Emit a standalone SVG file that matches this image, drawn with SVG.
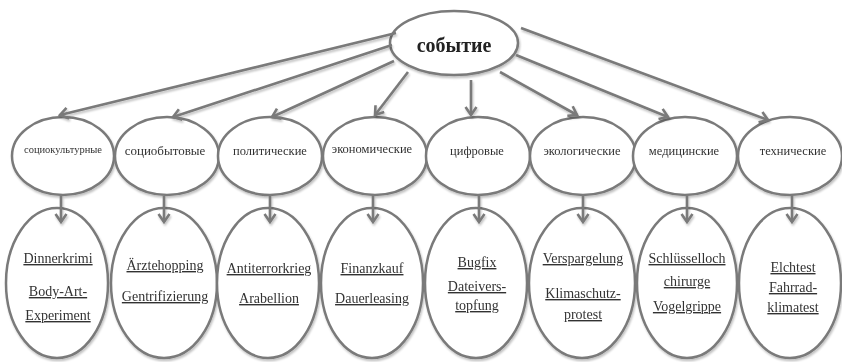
<svg xmlns="http://www.w3.org/2000/svg" width="842" height="362" viewBox="0 0 842 362">
<defs>
<marker id="ah" markerUnits="userSpaceOnUse" markerWidth="20" markerHeight="20" viewBox="-10 -10 20 20" refX="0" refY="0" orient="auto">
<path d="M-8,-5.5 L0,0 L-8,5.5" fill="none" stroke="#7a7a7a" stroke-width="2.6" stroke-linejoin="miter"/>
</marker>
<filter id="sh" x="-10%" y="-10%" width="120%" height="120%">
<feGaussianBlur in="SourceAlpha" stdDeviation="1.2"/>
<feOffset dx="1" dy="1.5" result="b"/>
<feComponentTransfer><feFuncA type="linear" slope="0.25"/></feComponentTransfer>
<feMerge><feMergeNode/><feMergeNode in="SourceGraphic"/></feMerge>
</filter>
</defs>
<style>
.n{fill:#fff;stroke:#7a7a7a;stroke-width:2.5}
.c line{stroke:#7a7a7a;stroke-width:2.6;fill:none}
.t{font-family:"Liberation Serif","Times New Roman",serif;fill:#333;text-anchor:middle}
.m{font-size:12.5px}
.b{font-size:14px;text-decoration:underline}
.r{font-family:"Liberation Serif","Times New Roman",serif;font-weight:bold;font-size:20px;fill:#222;text-anchor:middle}
</style>
<rect width="842" height="362" fill="#fff"/>
<g id="event" filter="url(#sh)"><ellipse class="n" cx="454" cy="43" rx="64" ry="32"/><text class="r" x="454" y="52">событие</text></g>
<g id="cat1" filter="url(#sh)"><ellipse class="n" cx="63" cy="156" rx="51" ry="39"/><text class="t" x="63" y="153" style="font-size:10.5px">социокультурные</text></g>
<g id="cat2" filter="url(#sh)"><ellipse class="n" cx="167" cy="156" rx="52" ry="39"/><text class="t" x="165" y="155" style="font-size:13px">социобытовые</text></g>
<g id="cat3" filter="url(#sh)"><ellipse class="n" cx="270" cy="156" rx="52" ry="39"/><text class="t m" x="270" y="155">политические</text></g>
<g id="cat4" filter="url(#sh)"><ellipse class="n" cx="375" cy="156" rx="52" ry="39"/><text class="t m" x="372" y="153">экономические</text></g>
<g id="cat5" filter="url(#sh)"><ellipse class="n" cx="478" cy="156" rx="52" ry="39"/><text class="t m" x="477" y="155">цифровые</text></g>
<g id="cat6" filter="url(#sh)"><ellipse class="n" cx="583" cy="156" rx="53" ry="39"/><text class="t m" x="582" y="155">экологические</text></g>
<g id="cat7" filter="url(#sh)"><ellipse class="n" cx="685" cy="156" rx="52" ry="39"/><text class="t m" x="684" y="155">медицинские</text></g>
<g id="cat8" filter="url(#sh)"><ellipse class="n" cx="790" cy="156" rx="52" ry="39"/><text class="t m" x="793" y="155">технические</text></g>
<g id="ex1" filter="url(#sh)"><ellipse class="n" cx="57" cy="283" rx="51" ry="75"/><text class="t b" x="58" y="263">Dinnerkrimi</text><text class="t b" x="58" y="296">Body-Art-</text><text class="t b" x="58" y="320">Experiment</text></g>
<g id="ex2" filter="url(#sh)"><ellipse class="n" cx="164" cy="283" rx="53" ry="75"/><text class="t b" x="165" y="270">Ärztehopping</text><text class="t b" x="165" y="301">Gentrifizierung</text></g>
<g id="ex3" filter="url(#sh)"><ellipse class="n" cx="268" cy="283" rx="51" ry="75"/><text class="t b" x="269" y="273">Antiterrorkrieg</text><text class="t b" x="269" y="303">Arabellion</text></g>
<g id="ex4" filter="url(#sh)"><ellipse class="n" cx="372" cy="283" rx="51" ry="75"/><text class="t b" x="372" y="273">Finanzkauf</text><text class="t b" x="372" y="303">Dauerleasing</text></g>
<g id="ex5" filter="url(#sh)"><ellipse class="n" cx="476" cy="283" rx="51" ry="75"/><text class="t b" x="477" y="267">Bugfix</text><text class="t b" x="477" y="291">Dateivers-</text><text class="t b" x="477" y="310">topfung</text></g>
<g id="ex6" filter="url(#sh)"><ellipse class="n" cx="582" cy="283" rx="53" ry="75"/><text class="t b" x="583" y="263">Verspargelung</text><text class="t b" x="583" y="298">Klimaschutz-</text><text class="t b" x="583" y="319">protest</text></g>
<g id="ex7" filter="url(#sh)"><ellipse class="n" cx="687" cy="283" rx="50" ry="75"/><text class="t b" x="687" y="263">Schlüsselloch</text><text class="t b" x="687" y="286">chirurge</text><text class="t b" x="687" y="311">Vogelgrippe</text></g>
<g id="ex8" filter="url(#sh)"><ellipse class="n" cx="790" cy="283" rx="51" ry="75"/><text class="t b" x="793" y="272">Elchtest</text><text class="t b" x="793" y="292">Fahrrad-</text><text class="t b" x="793" y="312">klimatest</text></g>
<g class="c" filter="url(#sh)">
<line x1="396" y1="33" x2="60" y2="115" marker-end="url(#ah)"/>
<line x1="392" y1="45" x2="173" y2="117" marker-end="url(#ah)"/>
<line x1="394" y1="61" x2="272" y2="117" marker-end="url(#ah)"/>
<line x1="408" y1="72" x2="375" y2="115" marker-end="url(#ah)"/>
<line x1="471" y1="80" x2="471" y2="115" marker-end="url(#ah)"/>
<line x1="500" y1="72" x2="577" y2="115" marker-end="url(#ah)"/>
<line x1="516" y1="55" x2="668" y2="117" marker-end="url(#ah)"/>
<line x1="521" y1="28" x2="768" y2="120" marker-end="url(#ah)"/>
<line x1="61" y1="196" x2="61" y2="222" marker-end="url(#ah)"/>
<line x1="164" y1="196" x2="164" y2="222" marker-end="url(#ah)"/>
<line x1="270" y1="196" x2="270" y2="222" marker-end="url(#ah)"/>
<line x1="373" y1="196" x2="373" y2="222" marker-end="url(#ah)"/>
<line x1="479" y1="196" x2="479" y2="222" marker-end="url(#ah)"/>
<line x1="583" y1="196" x2="583" y2="222" marker-end="url(#ah)"/>
<line x1="687" y1="196" x2="687" y2="222" marker-end="url(#ah)"/>
<line x1="792" y1="196" x2="792" y2="222" marker-end="url(#ah)"/>
</g>
</svg>
